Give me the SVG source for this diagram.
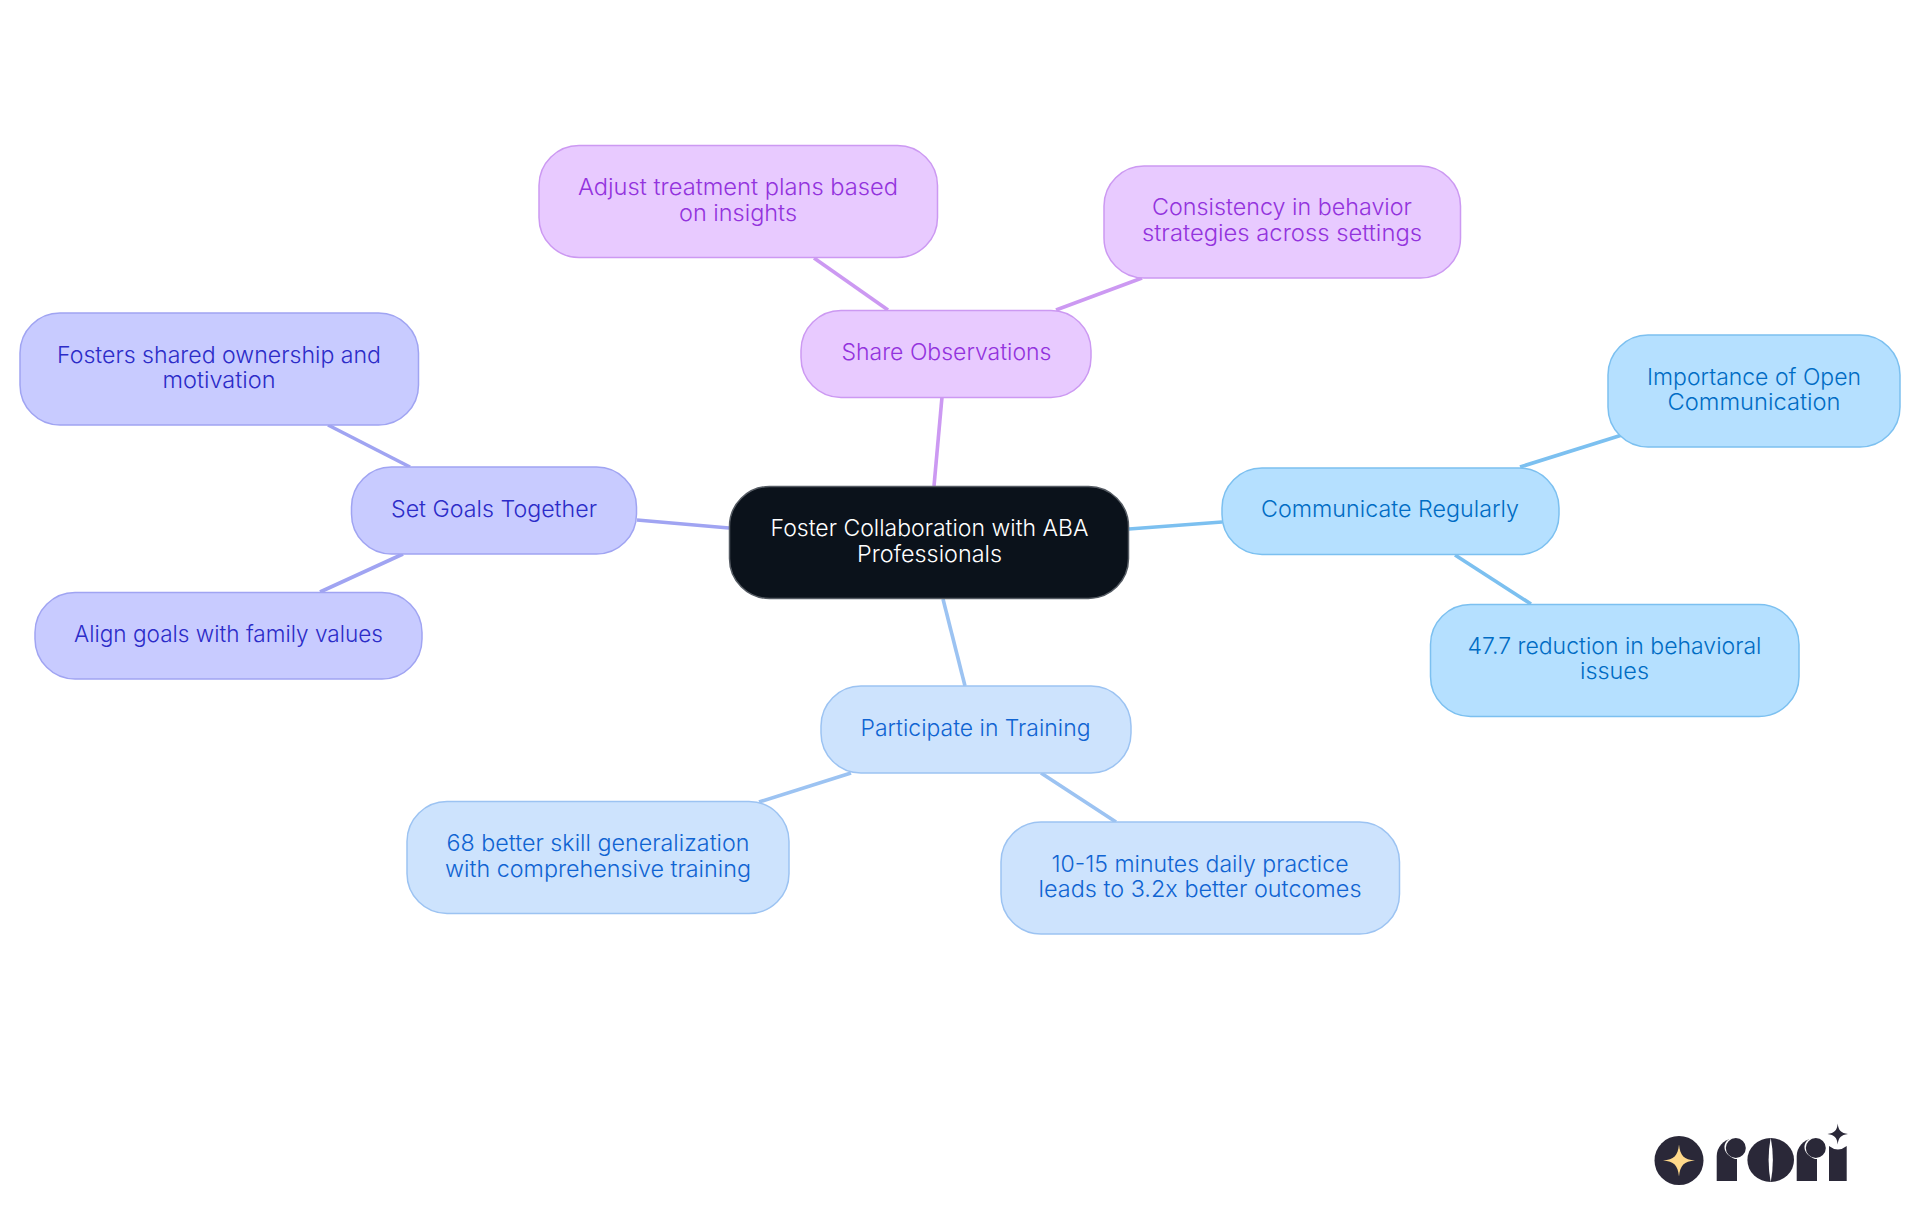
<svg xmlns="http://www.w3.org/2000/svg" width="1920" height="1215" viewBox="0 0 1920 1215">
<style>
text{font-family:"Inter","Noto Sans","Liberation Sans",sans-serif;font-size:23px;font-weight:350;text-anchor:middle}
rect{stroke-width:1.5}
#connectors line{stroke-width:3.6;stroke-linecap:butt}
.p rect{fill:#e8caff;stroke:#cc99f2}.p text{fill:#9333dd}
.i rect{fill:#c8cbff;stroke:#a0a4f2}.i text{fill:#2c2cc8}
.s rect{fill:#b5e0ff;stroke:#7cc0f0}.s text{fill:#006cc4}
.b rect{fill:#cde3fd;stroke:#9cc3f2}.b text{fill:#1064d2}
.r rect{fill:#0b121b;stroke:#555b63}.r text{fill:#ffffff}
.lp{stroke:#cc99f2}.li{stroke:#a0a4f2}.ls{stroke:#7cc0f0}.lb{stroke:#9cc3f2}
.d{fill:#2a2838}.w{fill:#ffffff}
</style>
<defs>
<g id="letter-r">
<path class="d" d="M1716.700 1181V1156A18 18 0 0 1 1732 1138.500H1737V1181Z"/>
<path class="w" d="M1732 1137.500C1721 1142 1722 1154 1735 1159L1746 1159V1137.500Z"/>
<circle class="d" cx="1735.800" cy="1148" r="10"/>
</g>
</defs>
<g id="connectors">
<line class="lp" x1="934" y1="486" x2="942" y2="397"/>
<line class="li" x1="729" y1="528" x2="637" y2="520"/>
<line class="ls" x1="1129" y1="529" x2="1222" y2="522"/>
<line class="lb" x1="943" y1="599" x2="965" y2="686"/>
<line class="lp" x1="888" y1="310" x2="814" y2="258"/>
<line class="lp" x1="1056" y1="310" x2="1142" y2="278"/>
<line class="li" x1="410" y1="467" x2="328" y2="425"/>
<line class="li" x1="403" y1="554" x2="320" y2="592"/>
<line class="ls" x1="1520" y1="467" x2="1622" y2="435"/>
<line class="ls" x1="1455" y1="555" x2="1531" y2="604"/>
<line class="lb" x1="851" y1="773" x2="759" y2="802"/>
<line class="lb" x1="1041" y1="773" x2="1116" y2="822"/>
</g>
<g id="root" class="r"><rect x="729.500" y="486.500" width="399" height="112" rx="40"/>
<text x="929.500" y="536" textLength="318" lengthAdjust="spacingAndGlyphs">Foster Collaboration with ABA</text>
<text x="929.500" y="562" textLength="145" lengthAdjust="spacingAndGlyphs">Professionals</text></g>
<g id="share" class="p"><rect x="801" y="310.500" width="290" height="87" rx="40"/>
<text x="946.500" y="360" textLength="210" lengthAdjust="spacingAndGlyphs">Share Observations</text></g>
<g id="adjust" class="p"><rect x="539" y="145.500" width="398.500" height="112" rx="40"/>
<text x="738" y="195" textLength="320" lengthAdjust="spacingAndGlyphs">Adjust treatment plans based</text>
<text x="738" y="221" textLength="118" lengthAdjust="spacingAndGlyphs">on insights</text></g>
<g id="consistency" class="p"><rect x="1104" y="166" width="356.500" height="112" rx="40"/>
<text x="1282" y="215" textLength="260" lengthAdjust="spacingAndGlyphs">Consistency in behavior</text>
<text x="1282" y="241" textLength="280" lengthAdjust="spacingAndGlyphs">strategies across settings</text></g>
<g id="goals" class="i"><rect x="351.500" y="467" width="285" height="87" rx="40"/>
<text x="494" y="517" textLength="206" lengthAdjust="spacingAndGlyphs">Set Goals Together</text></g>
<g id="fosters" class="i"><rect x="20" y="313" width="398.500" height="112" rx="40"/>
<text x="219" y="363" textLength="324" lengthAdjust="spacingAndGlyphs">Fosters shared ownership and</text>
<text x="219" y="388" textLength="113" lengthAdjust="spacingAndGlyphs">motivation</text></g>
<g id="align" class="i"><rect x="35" y="592.500" width="387" height="86.500" rx="40"/>
<text x="228.500" y="642" textLength="309" lengthAdjust="spacingAndGlyphs">Align goals with family values</text></g>
<g id="communicate" class="s"><rect x="1222" y="468" width="337" height="86.500" rx="40"/>
<text x="1390" y="517" textLength="258" lengthAdjust="spacingAndGlyphs">Communicate Regularly</text></g>
<g id="importance" class="s"><rect x="1608" y="335" width="292" height="112" rx="40"/>
<text x="1754" y="385" textLength="214" lengthAdjust="spacingAndGlyphs">Importance of Open</text>
<text x="1754" y="410" textLength="173" lengthAdjust="spacingAndGlyphs">Communication</text></g>
<g id="reduction" class="s"><rect x="1430.500" y="604.500" width="368.500" height="112" rx="40"/>
<text x="1614.500" y="654" textLength="294" lengthAdjust="spacingAndGlyphs">47.7 reduction in behavioral</text>
<text x="1614.500" y="679" textLength="69" lengthAdjust="spacingAndGlyphs">issues</text></g>
<g id="participate" class="b"><rect x="821" y="686" width="310" height="87" rx="40"/>
<text x="975.500" y="736" textLength="230" lengthAdjust="spacingAndGlyphs">Participate in Training</text></g>
<g id="skill" class="b"><rect x="407" y="801.500" width="382" height="112" rx="40"/>
<text x="598" y="851" textLength="303" lengthAdjust="spacingAndGlyphs">68 better skill generalization</text>
<text x="598" y="877" textLength="306" lengthAdjust="spacingAndGlyphs">with comprehensive training</text></g>
<g id="practice" class="b"><rect x="1001" y="822" width="398.500" height="112" rx="40"/>
<text x="1200" y="872" textLength="297" lengthAdjust="spacingAndGlyphs">10-15 minutes daily practice</text>
<text x="1200" y="897" textLength="323" lengthAdjust="spacingAndGlyphs">leads to 3.2x better outcomes</text></g>
<g id="logo">
<circle class="d" cx="1679" cy="1160.500" r="24.500"/>
<path fill="#ffd98a" d="M1679 1144.500C1680.200 1156 1684 1159.500 1695 1160.500C1684 1161.500 1680.200 1165 1679 1176.500C1677.800 1165 1674 1161.500 1663 1160.500C1674 1159.500 1677.800 1156 1679 1144.500Z"/>
<use href="#letter-r"/>
<ellipse class="d" cx="1770.700" cy="1160" rx="23.300" ry="22"/>
<path class="w" d="M1770.700 1137.500Q1775 1160 1770.700 1182.500Q1766.500 1160 1770.700 1137.500Z"/>
<use href="#letter-r" x="80"/>
<path class="d" d="M1829 1146Q1838 1153 1846.700 1146V1181H1829Z"/>
<path class="d" d="M1837.700 1123.500C1838.500 1130.500 1841 1133 1848 1134C1841 1135 1838.500 1137.500 1837.700 1144.500C1837 1137.500 1834.500 1135 1827.500 1134C1834.500 1133 1837 1130.500 1837.700 1123.500Z"/>
</g>
</svg>
